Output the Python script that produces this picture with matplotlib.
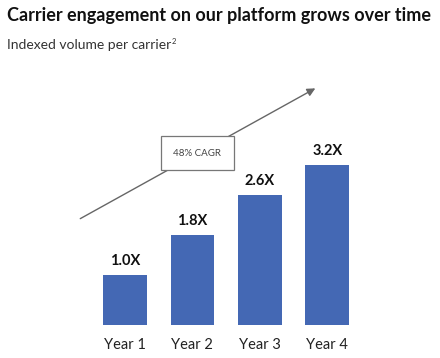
import matplotlib.pyplot as plt
import numpy as np

years = ['Year 1', 'Year 2', 'Year 3', 'Year 4']
values = [1.0, 1.8, 2.6, 3.2]
labels = ['1.0X', '1.8X', '2.6X', '3.2X']

plt.rcParams['font.family'] = ['Lato', 'DejaVu Sans']

fig = plt.figure(figsize=(4.4, 3.58), dpi=100)
ax = fig.add_axes([0, 0, 1, 1])
ax.set_xlim(-1.855, 4.674)
ax.set_ylim(-0.66, 6.5)
ax.axis('off')

x = np.arange(len(years))
ax.bar(x, values, width=0.65, color='#4468B4')
for xi, v, lab, yr in zip(x, values, labels, years):
    ax.text(xi, v + 0.14, lab, ha='center', va='bottom', fontsize=10.5,
            fontweight='bold', color='#111111')
    ax.text(xi, -0.4, yr, ha='center', va='center', fontsize=10.5, color='#222222')

# trend arrow
ax.annotate('', xy=(2.86, 4.76), xytext=(-0.70, 2.1),
            arrowprops=dict(arrowstyle='-|>', color='#666666', lw=1.0,
                            mutation_scale=12))
ax.text(1.075, 3.44, '48% CAGR', ha='center', va='center', fontsize=7,
        color='#444444',
        bbox=dict(boxstyle='square,pad=1.25', fc='white', ec='#777777', lw=0.9))

fig.text(7 / 440, 1 - 16 / 358, 'Carrier engagement on our platform grows over time',
         ha='left', va='center', fontsize=13, fontweight='bold', color='#111111')
sub = fig.text(7 / 440, 1 - 45 / 358, 'Indexed volume per carrier',
               ha='left', va='center', fontsize=10, color='#333333')
fig.canvas.draw()
bb = sub.get_window_extent()
fig.text((bb.x1 + 0.5) / fig.bbox.width, (bb.y1 + 1.5) / fig.bbox.height, '2',
         fontsize=5.5, color='#333333', ha='left', va='top')

fig.savefig('out.png', dpi=100)
